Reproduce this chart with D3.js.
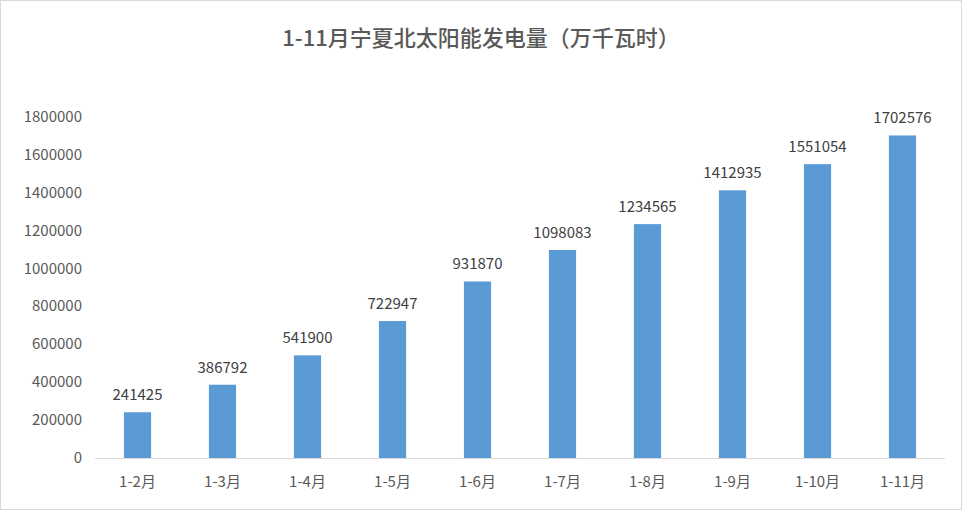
<!DOCTYPE html>
<html><head><meta charset="utf-8">
<script src="https://cdn.jsdelivr.net/npm/d3@7"></script>
<style>body{margin:0;background:#fff}svg{display:block}</style>
</head><body>
<svg id="c" width="962" height="510"></svg>
<script>
const categories = ["1-2月","1-3月","1-4月","1-5月","1-6月","1-7月","1-8月","1-9月","1-10月","1-11月"];
const values = [241425,386792,541900,722947,931870,1098083,1234565,1412935,1551054,1702576];
const yTicks = [0,200000,400000,600000,800000,1000000,1200000,1400000,1600000,1800000];
const title = "1-11月宁夏北太阳能发电量（万千瓦时）";

const svg = d3.select("#c");
const font = "'Noto Sans CJK SC', 'DejaVu Sans', sans-serif";
svg.append("rect").attr("x",0.5).attr("y",0.5).attr("width",961).attr("height",509)
  .attr("fill","#fff").attr("stroke","#d9d9d9");
const x = d3.scaleBand().domain(categories).range([95,945]).paddingInner(0.68).paddingOuter(0.34);
const y = d3.scaleLinear().domain([0,1800000]).range([458,117]);

svg.append("text").attr("x",481).attr("y",46).attr("text-anchor","middle").attr("font-weight",500)
  .attr("font-family",font).attr("font-size",22).attr("fill","#595959").text(title);

svg.append("g").selectAll("text").data(yTicks).join("text")
  .attr("x",82).attr("y",d=>y(d)+5).attr("text-anchor","end")
  .attr("font-family",font).attr("font-size",15).attr("fill","#595959").text(d=>d);

svg.append("line").attr("x1",95).attr("x2",945).attr("y1",458.5).attr("y2",458.5).attr("stroke","#d9d9d9");

svg.append("g").selectAll("rect").data(values).join("rect")
  .attr("x",(d,i)=>x(categories[i])).attr("width",x.bandwidth())
  .attr("y",d=>y(d)).attr("height",d=>458-y(d)).attr("fill","#5b9bd5");

svg.append("g").selectAll("text").data(values).join("text")
  .attr("x",(d,i)=>x(categories[i])+x.bandwidth()/2).attr("y",d=>y(d)-12)
  .attr("text-anchor","middle").attr("font-family",font).attr("font-size",15).attr("fill","#404040").text(d=>d);

svg.append("g").selectAll("text").data(categories).join("text")
  .attr("x",d=>x(d)+x.bandwidth()/2).attr("y",487).attr("text-anchor","middle")
  .attr("font-family",font).attr("font-size",15).attr("fill","#595959").text(d=>d);
</script>
</body></html>
